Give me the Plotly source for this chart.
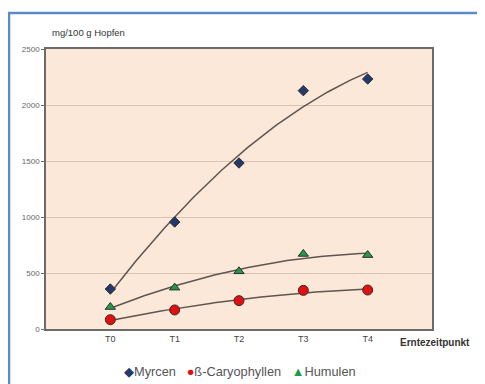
import numpy as np
import plotly.graph_objects as go

categories = ["T0", "T1", "T2", "T3", "T4"]
myrcen = [357, 955, 1482, 2128, 2232]
caryophyllen = [83, 170, 253, 345, 348]
humulen = [196, 369, 515, 670, 660]
y_ticks = [0, 500, 1000, 1500, 2000, 2500]

x = list(range(len(categories)))
xs = np.linspace(0, len(categories) - 1, 100)

FONT = "Liberation Sans, Arial, sans-serif"
fig = go.Figure()

series = [
    ("Myrcen", myrcen, "diamond", "#1F3A6B", 8),
    ("ß-Caryophyllen", caryophyllen, "circle", "#E01010", 10),
    ("Humulen", humulen, "triangle-up", "#1E9A4A", 9),
]
for name, vals, sym, col, size in series:
    coef = np.polyfit(x, vals, 2)
    fig.add_trace(go.Scatter(x=xs, y=np.polyval(coef, xs), mode="lines",
                             line=dict(color="#5E5550", width=1.5),
                             showlegend=False, hoverinfo="skip"))
for name, vals, sym, col, size in series:
    fig.add_trace(go.Scatter(x=x, y=vals, mode="markers", name=name,
                             marker=dict(symbol=sym, color=col, size=size,
                                         line=dict(color="#3a2a2a", width=1)),
                             showlegend=False))

# page body has an 8px margin, so the figure is offset by (8, 8)
fig.update_layout(
    width=477, height=376,
    margin=dict(l=38, r=53, t=41, b=55),
    paper_bgcolor="white",
    plot_bgcolor="#FBE8D9",
    font=dict(family=FONT, size=8, color="#555555"),
    xaxis=dict(range=[-1, 5], tickvals=x, ticktext=categories,
               showgrid=False, zeroline=False, showline=True, mirror=True,
               linecolor="#6b6b6b", linewidth=1.5, ticks="", fixedrange=True,
               tickfont=dict(size=9, color="#444444")),
    yaxis=dict(range=[0, 2500], tickvals=y_ticks, showgrid=True,
               gridcolor="#D9C3B3", gridwidth=1, zeroline=False,
               showline=True, mirror=True, linecolor="#6b6b6b", linewidth=1.5,
               ticks="outside", ticklen=3, tickcolor="#6b6b6b",
               tickfont=dict(size=8, color="#666666")),
    showlegend=False,
)

# outer blue frame
fig.add_shape(type="rect", xref="paper", yref="paper",
              x0=-37 / 386, x1=600 / 386, y0=-200 / 280, y1=1 + 36 / 280,
              line=dict(color="#5B8BCB", width=2.5), fillcolor="rgba(0,0,0,0)",
              layer="below")

fig.add_annotation(text="mg/100 g Hopfen", xref="paper", yref="paper",
                   x=4 / 386, y=1 + 16 / 280, xanchor="left", yanchor="middle",
                   showarrow=False, font=dict(size=9.5, color="#333333", family=FONT))
fig.add_annotation(text="<b>Erntezeitpunkt</b>", xref="paper", yref="paper",
                   x=(435 - 46) / 386, y=-13 / 280, xanchor="center", yanchor="middle",
                   showarrow=False, font=dict(size=10, color="#333333", family=FONT))

legend_txt = ("<span style='color:#1F3A6B'>◆</span>Myrcen   "
              "<span style='color:#E01010'>●</span>ß-Caryophyllen   "
              "<span style='color:#1E9A4A'>▲</span>Humulen")
fig.add_annotation(text=legend_txt, xref="paper", yref="paper",
                   x=(240 - 46) / 386, y=-(371 - 329) / 280,
                   xanchor="center", yanchor="middle", showarrow=False,
                   font=dict(size=12.8, color="#555555", family=FONT))

fig.write_html("out.html")
